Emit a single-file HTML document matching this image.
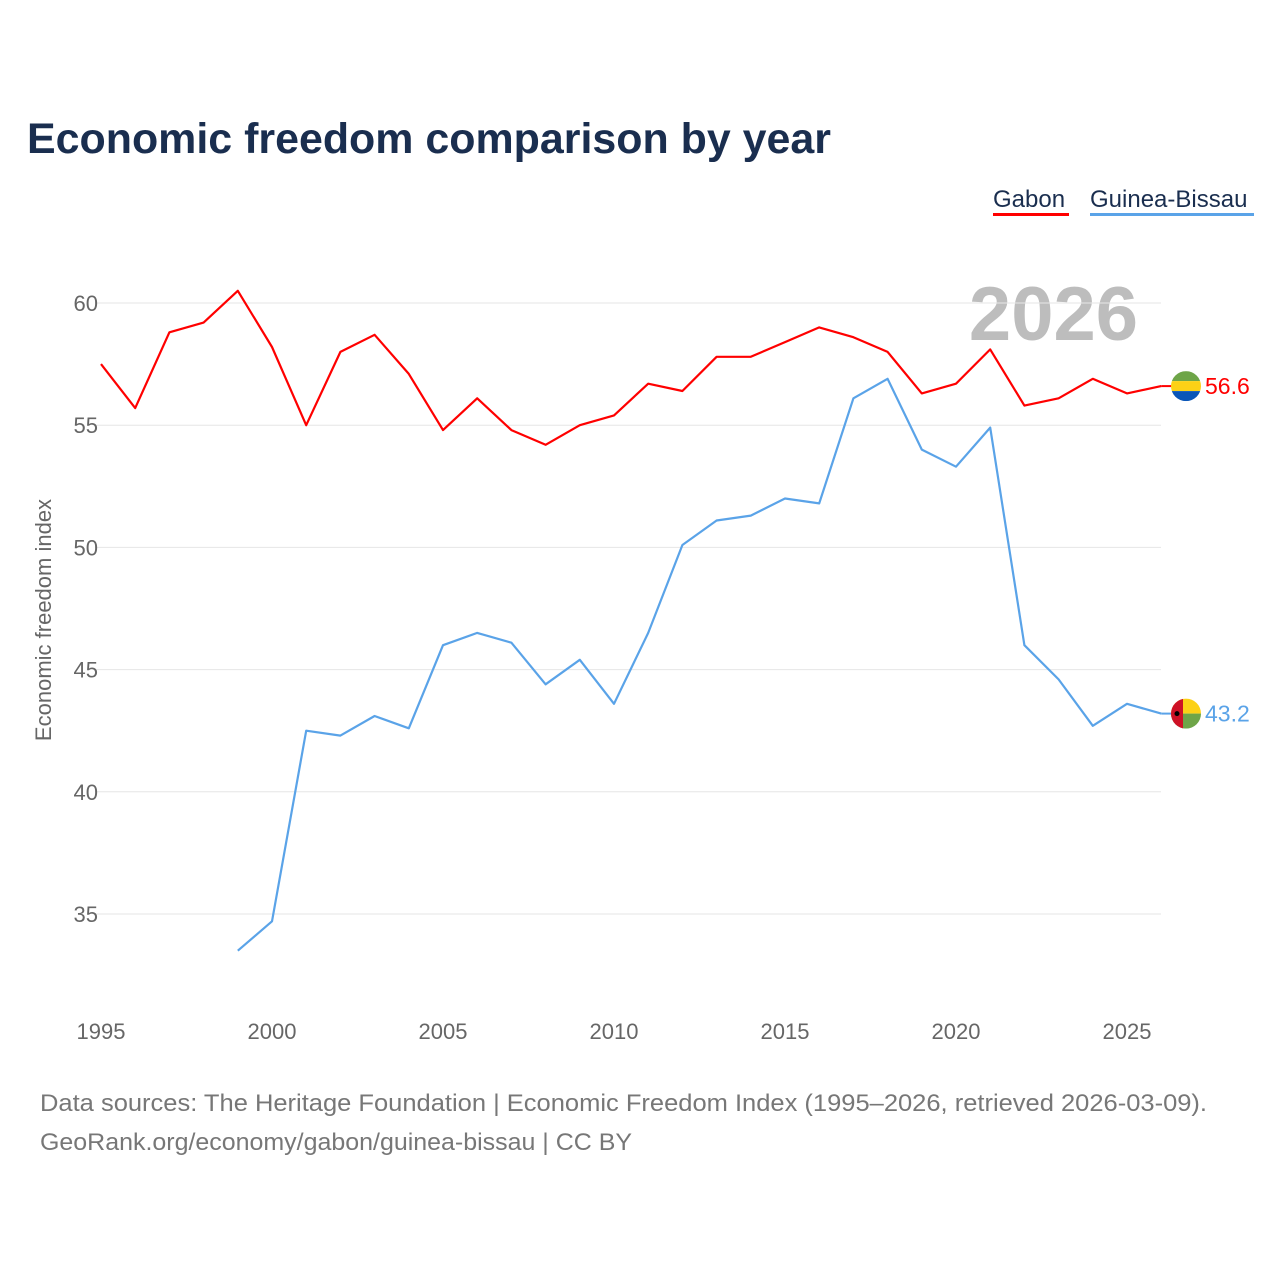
<!DOCTYPE html>
<html><head><meta charset="utf-8">
<style>
body{margin:0;background:#fff;font-family:"Liberation Sans",sans-serif;}
svg text{font-family:"Liberation Sans",sans-serif;}
</style></head>
<body>
<svg width="1280" height="1280" viewBox="0 0 1280 1280">
<text x="27" y="153" font-size="43" font-weight="bold" fill="#1a2e4f" textLength="804" lengthAdjust="spacingAndGlyphs">Economic freedom comparison by year</text>
<g>
<text x="993" y="207" font-size="24" fill="#1a2e4f">Gabon</text>
<rect x="993" y="213" width="76" height="3" fill="#ff0000"/>
<text x="1090" y="207" font-size="24" fill="#1a2e4f">Guinea-Bissau</text>
<rect x="1090" y="213" width="164" height="3" fill="#5aa3e8"/>
</g>
<text x="1138" y="340" font-size="76" font-weight="bold" fill="#bdbdbd" text-anchor="end">2026</text>
<g id="grid"></g><g id="xt"></g>
<text transform="translate(51,620) rotate(-90)" font-size="22" fill="#666" text-anchor="middle">Economic freedom index</text>
<g id="lines"></g>
<g>
<text x="40" y="1111" font-size="24" fill="#777" textLength="1167" lengthAdjust="spacingAndGlyphs">Data sources: The Heritage Foundation | Economic Freedom Index (1995–2026, retrieved 2026-03-09).</text>
<text x="40" y="1150" font-size="24" fill="#777" textLength="592" lengthAdjust="spacingAndGlyphs">GeoRank.org/economy/gabon/guinea-bissau | CC BY</text>
</g>
</svg>
<script>
const years=[1995,1996,1997,1998,1999,2000,2001,2002,2003,2004,2005,2006,2007,2008,2009,2010,2011,2012,2013,2014,2015,2016,2017,2018,2019,2020,2021,2022,2023,2024,2025,2026];
const gabon=[57.5,55.7,58.8,59.2,60.5,58.2,55.0,58.0,58.7,57.1,54.8,56.1,54.8,54.2,55.0,55.4,56.7,56.4,57.8,57.8,58.4,59.0,58.6,58.0,56.3,56.7,58.1,55.8,56.1,56.9,56.3,56.6];
const gb=[null,null,null,null,33.5,34.7,42.5,42.3,43.1,42.6,46.0,46.5,46.1,44.4,45.4,43.6,46.5,50.1,51.1,51.3,52.0,51.8,56.1,56.9,54.0,53.3,54.9,46.0,44.6,42.7,43.6,43.2];
const yTicks=[35,40,45,50,55,60];
const xTicks=[1995,2000,2005,2010,2015,2020,2025];
const NS="http://www.w3.org/2000/svg";
const X=v=>101+(v-1995)*34.2;
const Y=v=>303+(60-v)*24.44;
function mk(t,a,p){const e=document.createElementNS(NS,t);for(const k in a)e.setAttribute(k,a[k]);p.appendChild(e);return e;}
const grid=document.getElementById('grid');
yTicks.forEach(t=>{
 const l=mk('line',{x1:95,x2:1161,y1:Y(t),y2:Y(t),stroke:'#e6e6e6','stroke-width':1},grid);
 
 
 const tx=mk('text',{x:98,y:Y(t)+8,'font-size':22,fill:'#666','text-anchor':'end'},grid);
 tx.textContent=t;
 
 
});
const xt=document.getElementById('xt');
xTicks.forEach(t=>{
 const tx=mk('text',{x:X(t),y:1039,'font-size':22,fill:'#666','text-anchor':'middle'},xt);
 tx.textContent=t;
 
 
});
const lines=document.getElementById('lines');
function draw(vals,col,name){
 let d='';vals.forEach((v,i)=>{if(v==null)return;d+=(d?'L':'M')+X(years[i]).toFixed(1)+','+Y(v).toFixed(1);});
 const p=mk('path',{d:d,fill:'none',stroke:col,'stroke-width':2.2,'stroke-linejoin':'round'},lines);
 
 
 const last=vals[vals.length-1];
 const y=Y(last);
 mk('line',{x1:X(2026),x2:1172,y1:y,y2:y,stroke:col,'stroke-width':2},lines);
 const t=mk('text',{x:1205,y:y+8,'font-size':23,fill:col},lines);
 t.textContent=last.toFixed(1);
 
 
 return y;
}
const yg=draw(gabon,'#ff0000','gabon');
const yb=draw(gb,'#5aa3e8','guinea-bissau');
const fg=mk('g',{},lines);


mk('clipPath',{id:'c1'},fg);
mk('circle',{cx:1186,cy:yg,r:15},document.getElementById('c1'));
const g1=mk('g',{'clip-path':'url(#c1)'},fg);
mk('rect',{x:1171,y:yg-15,width:30,height:10,fill:'#6ea548'},g1);
mk('rect',{x:1171,y:yg-5,width:30,height:10,fill:'#fcd116'},g1);
mk('rect',{x:1171,y:yg+5,width:30,height:10,fill:'#0a56b8'},g1);
const fb=mk('g',{},lines);


mk('clipPath',{id:'c2'},fb);
mk('circle',{cx:1186,cy:yb,r:15},document.getElementById('c2'));
const g2=mk('g',{'clip-path':'url(#c2)'},fb);
mk('rect',{x:1171,y:yb-15,width:30,height:15,fill:'#fcd116'},g2);
mk('rect',{x:1171,y:yb,width:30,height:15,fill:'#6ea548'},g2);
mk('rect',{x:1171,y:yb-15,width:12,height:30,fill:'#ce1126'},g2);
mk('circle',{cx:1177,cy:yb,r:2.5,fill:'#000'},g2);
</script>
</body></html>
